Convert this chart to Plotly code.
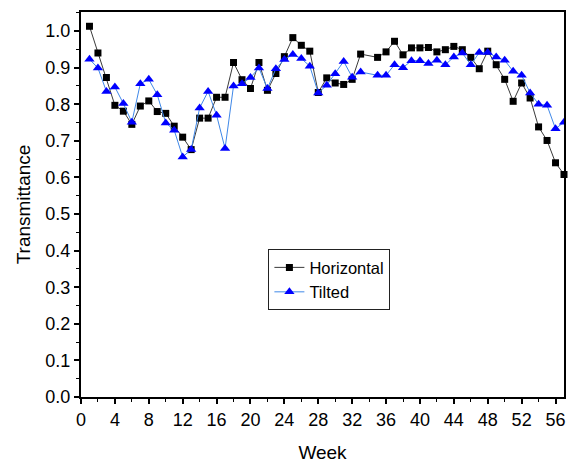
import plotly.graph_objects as go

# Weekly transmittance measurements (week 34 not recorded)
weeks = [1, 2, 3, 4, 5, 6, 7, 8, 9, 10, 11, 12, 13, 14, 15, 16, 17, 18, 19, 20,
         21, 22, 23, 24, 25, 26, 27, 28, 29, 30, 31, 32, 33, 35, 36, 37, 38, 39,
         40, 41, 42, 43, 44, 45, 46, 47, 48, 49, 50, 51, 52, 53, 54, 55, 56, 57]

horizontal = [1.013, 0.940, 0.873, 0.797, 0.781, 0.745, 0.795, 0.809, 0.780, 0.775,
              0.740, 0.710, 0.676, 0.762, 0.762, 0.819, 0.819, 0.914, 0.867, 0.843,
              0.914, 0.838, 0.884, 0.930, 0.982, 0.961, 0.945, 0.832, 0.872, 0.858,
              0.854, 0.868, 0.937, 0.928, 0.943, 0.972, 0.935, 0.954, 0.954, 0.955,
              0.943, 0.949, 0.958, 0.949, 0.928, 0.897, 0.945, 0.908, 0.868, 0.808,
              0.858, 0.817, 0.738, 0.701, 0.640, 0.608]

tilted = [0.923, 0.899, 0.835, 0.847, 0.802, 0.751, 0.856, 0.868, 0.826, 0.749,
          0.729, 0.656, 0.676, 0.790, 0.835, 0.770, 0.679, 0.850, 0.856, 0.873,
          0.899, 0.843, 0.897, 0.922, 0.936, 0.925, 0.904, 0.831, 0.852, 0.883,
          0.917, 0.874, 0.888, 0.879, 0.879, 0.908, 0.900, 0.919, 0.919, 0.911,
          0.920, 0.908, 0.929, 0.940, 0.908, 0.941, 0.941, 0.929, 0.920, 0.890,
          0.879, 0.831, 0.800, 0.797, 0.733, 0.751]

x_ticks = list(range(0, 57, 4))
y_ticks = [round(i * 0.1, 1) for i in range(11)]

fig = go.Figure()
fig.add_trace(go.Scatter(
    x=weeks, y=horizontal, name="Horizontal", mode="lines+markers",
    line=dict(color="#3a3a3a", width=1),
    marker=dict(symbol="square", size=7, color="black"),
    cliponaxis=False,
))
fig.add_trace(go.Scatter(
    x=weeks, y=tilted, name="Tilted", mode="lines+markers",
    line=dict(color="#3f88e8", width=1),
    marker=dict(symbol="triangle-up", size=9, color="#0000ff"),
    cliponaxis=True,
))

family = "Liberation Sans, Arial, sans-serif"
tick_font = dict(family=family, size=18, color="black")

fig.update_layout(
    width=568, height=463,
    margin=dict(l=81, r=2, t=12, b=66),
    paper_bgcolor="white", plot_bgcolor="white",
    font=tick_font,
    showlegend=True,
    legend=dict(
        x=0.388, y=0.384, xanchor="left", yanchor="top",
        bordercolor="#222222", borderwidth=1, bgcolor="white",
        font=dict(family=family, size=16.5, color="black"),
        tracegroupgap=0, itemwidth=30,
    ),
)

fig.update_xaxes(
    range=[0, 57], tickvals=x_ticks, ticktext=[str(t) for t in x_ticks],
    showgrid=False, zeroline=False,
    showline=True, linecolor="black", linewidth=2, mirror=True,
    ticks="outside", ticklen=5, tickwidth=1.5, tickcolor="black",
    minor=dict(dtick=2, tick0=0, ticks="outside", ticklen=3, tickwidth=1.2, tickcolor="black", showgrid=False),
    title=dict(text="Week", font=dict(family=family, size=19), standoff=18),
    tickfont=tick_font,
)
fig.update_yaxes(
    range=[0, 1.052], tickvals=y_ticks, ticktext=[f"{t:.1f}" for t in y_ticks],
    showgrid=False, zeroline=False,
    showline=True, linecolor="black", linewidth=2, mirror=True,
    ticks="outside", ticklen=5, tickwidth=1.5, tickcolor="black",
    minor=dict(dtick=0.05, tick0=0, ticks="outside", ticklen=3, tickwidth=1.2, tickcolor="black", showgrid=False),
    title=dict(text="Transmittance", font=dict(family=family, size=19), standoff=10),
    tickfont=tick_font,
)

fig.write_html("out.html")
